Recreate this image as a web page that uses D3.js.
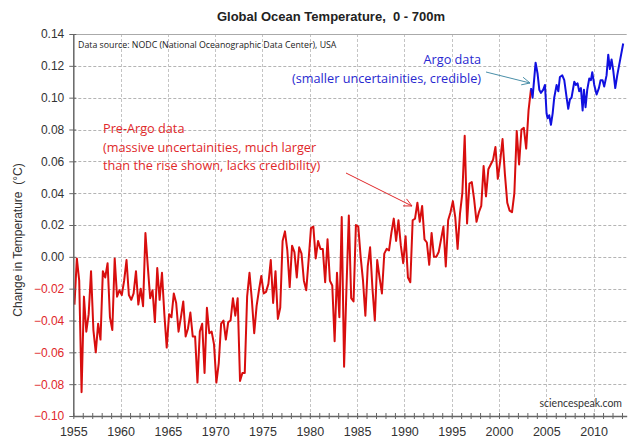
<!DOCTYPE html>
<html>
<head>
<meta charset="utf-8">
<script src="https://cdn.jsdelivr.net/npm/d3@7"></script>
<style>
  body { margin: 0; background: #fff; }
  svg { display: block; }
  .tick text { font-family: "Liberation Sans", Arial, sans-serif; }
</style>
</head>
<body>
<svg id="chart" width="628" height="439"></svg>
<script>
// quarterly NODC values, 0-700m (pre-Argo part, red)
var preArgoStart = 1955.125;
var quarterStep = 0.25;
var preArgo = [
  -0.030, -0.001, -0.015, -0.085,
  -0.025, -0.047, -0.036, -0.009,
  -0.046, -0.060, -0.042, -0.052,
  -0.009, -0.013, -0.004, -0.038,
  -0.046, -0.001, -0.025, -0.021,
  -0.024, -0.015, -0.002, -0.024,
  -0.027, -0.023, -0.009, -0.030,
  -0.020, -0.031, 0.015, -0.006,
  -0.026, -0.021, -0.041, -0.007,
  -0.027, -0.010, -0.036, -0.057,
  -0.036, -0.038, -0.023, -0.029,
  -0.047, -0.038, -0.028, -0.050,
  -0.045, -0.035, -0.050, -0.050,
  -0.079, -0.047, -0.042, -0.073,
  -0.032, -0.048, -0.047, -0.055,
  -0.079, -0.067, -0.042, -0.040,
  -0.052, -0.041, -0.040, -0.026,
  -0.037, -0.026, -0.078, -0.073,
  -0.073, -0.025, -0.010, -0.027,
  -0.048, -0.031, -0.021, -0.012,
  -0.023, -0.022, -0.017, -0.002,
  -0.029, -0.009, -0.039, -0.032,
  0.010, 0.016, 0.004, -0.019,
  0.007, 0.003, -0.013, 0.006,
  0.002, -0.015, -0.021, -0.002,
  0.018, 0.019, -0.001, 0.010,
  0.005, 0.005, -0.016, 0.011,
  -0.015, -0.018, -0.053, -0.010,
  -0.038, 0.025, -0.069, -0.020,
  0.026, -0.026, -0.028, 0.020,
  0.019, 0.000, -0.015, -0.037,
  -0.006, 0.006, -0.020, -0.040,
  -0.002, -0.013, -0.023, 0.002,
  0.005, 0.004, 0.015, 0.024,
  0.010, 0.023, 0.007, -0.004,
  0.013, -0.013, -0.016, 0.023,
  0.024, 0.034, 0.022, 0.032,
  0.011, 0.009, -0.005, 0.015,
  0.000, 0.000, 0.003, 0.011,
  0.019, -0.006, 0.023, 0.028,
  0.035, 0.025, 0.005, 0.027,
  0.040, 0.076, 0.021, 0.046,
  0.047, 0.036, 0.022, 0.028,
  0.032, 0.057, 0.038, 0.055,
  0.058, 0.061, 0.069, 0.049,
  0.060, 0.074, 0.052, 0.034,
  0.029, 0.028, 0.040, 0.079,
  0.058, 0.080, 0.081, 0.068,
  0.092, 0.105
];

// Argo part (blue)
var argoYears = [
  2003.38, 2003.55, 2003.87, 2004.08, 2004.26, 2004.43, 2004.68, 2004.86, 2005.03, 2005.14,
  2005.31, 2005.49, 2005.67, 2005.84, 2006.09, 2006.27, 2006.44, 2006.69, 2006.90, 2007.15,
  2007.32, 2007.50, 2007.67, 2007.96, 2008.13, 2008.31, 2008.48, 2008.66, 2008.84, 2008.98,
  2009.15, 2009.33, 2009.54, 2009.72, 2009.86, 2010.07, 2010.32, 2010.56, 2010.74, 2010.95,
  2011.12, 2011.37, 2011.55, 2011.72, 2011.90, 2012.08, 2012.29, 2012.50, 2012.78, 2013.13
];
var argoValues = [
  0.106, 0.100, 0.122, 0.115, 0.105, 0.103, 0.105, 0.108, 0.090, 0.087,
  0.089, 0.083, 0.090, 0.100, 0.108, 0.104, 0.113, 0.114, 0.111, 0.100,
  0.093, 0.099, 0.100, 0.110, 0.108, 0.109, 0.104, 0.106, 0.092, 0.105,
  0.094, 0.105, 0.112, 0.111, 0.116, 0.108, 0.102, 0.106, 0.111, 0.111,
  0.107, 0.114, 0.127, 0.118, 0.124, 0.117, 0.106, 0.114, 0.123, 0.134
];

var yTicks = [-0.10, -0.08, -0.06, -0.04, -0.02, 0.00, 0.02, 0.04, 0.06, 0.08, 0.10, 0.12, 0.14];
var xLabels = [1955, 1960, 1965, 1970, 1975, 1980, 1985, 1990, 1995, 2000, 2005, 2010];
var xYears = d3.range(1955, 2014);

var svg = d3.select('#chart');
var plotLeft = 73.3, plotRight = 626.7, plotTop = 34, plotBottom = 416;

var x = d3.scaleLinear().domain([1955, 2013.5]).range([plotLeft, plotRight]);
var y = d3.scaleLinear().domain([-0.10, 0.14]).range([plotBottom, plotTop]);

// grid
var grid = svg.append('g');
grid.selectAll('line.h')
  .data(yTicks.filter(function(d) { return d > -0.09 && d < 0.13; }))
  .enter().append('line')
  .attr('x1', plotLeft).attr('x2', plotRight)
  .attr('y1', function(d) { return Math.round(y(d)) + 0.5; })
  .attr('y2', function(d) { return Math.round(y(d)) + 0.5; })
  .attr('stroke', '#b4b4b4').attr('stroke-dasharray', '3,2');
grid.selectAll('line.v')
  .data(xLabels.slice(1))
  .enter().append('line')
  .attr('x1', function(d) { return Math.round(x(d)) + 0.5; })
  .attr('x2', function(d) { return Math.round(x(d)) + 0.5; })
  .attr('y1', plotTop).attr('y2', plotBottom)
  .attr('stroke', '#c4c4c4').attr('stroke-dasharray', '3,2');
grid.append('line')
  .attr('x1', plotLeft).attr('x2', plotRight)
  .attr('y1', plotTop + 0.5).attr('y2', plotTop + 0.5)
  .attr('stroke', '#aaa');

// lines
var line = d3.line()
  .x(function(d) { return x(d.year); })
  .y(function(d) { return y(d.value); });

var redData = preArgo.map(function(v, i) { return { year: preArgoStart + i * quarterStep, value: v }; });
var blueData = argoYears.map(function(yr, i) { return { year: yr, value: argoValues[i] }; });

svg.append('path').datum(redData)
  .attr('d', line).attr('fill', 'none')
  .attr('stroke', '#d80e0e').attr('stroke-width', 2).attr('stroke-linejoin', 'round');
svg.append('path').datum(blueData)
  .attr('d', line).attr('fill', 'none')
  .attr('stroke', '#1010e0').attr('stroke-width', 2).attr('stroke-linejoin', 'round');

// axes
var yAxis = svg.append('g')
  .attr('transform', 'translate(' + plotLeft + ',0)')
  .call(d3.axisLeft(y).tickValues(yTicks).tickSizeInner(4).tickSizeOuter(0).tickPadding(5)
    .tickFormat(d3.format('.2f')));
yAxis.select('.domain').attr('stroke', '#666').attr('stroke-width', 1.5);
yAxis.selectAll('.tick line').attr('x1', 3).attr('stroke', '#666');
yAxis.selectAll('.tick text')
  .attr('font-size', 12)
  .attr('fill', function(d) { return d < 0 ? '#e0282a' : '#333'; });

var xAxis = svg.append('g')
  .attr('transform', 'translate(0,' + plotBottom + ')')
  .call(d3.axisBottom(x).tickValues(xYears).tickSizeInner(3).tickSizeOuter(0).tickPadding(8)
    .tickFormat(function(d) { return d % 5 === 0 ? d : ''; }));
xAxis.select('.domain').attr('stroke', '#666').attr('stroke-width', 1.5);
xAxis.selectAll('.tick line').attr('y1', -3).attr('stroke', '#666');
xAxis.selectAll('.tick text').attr('font-size', 12.5).attr('fill', '#333');

// titles
svg.append('text')
  .attr('x', 331).attr('y', 21)
  .attr('text-anchor', 'middle')
  .attr('font-family', '"Liberation Sans", Arial, sans-serif')
  .attr('font-weight', 'bold').attr('font-size', 13).attr('fill', '#222')
  .text('Global Ocean Temperature,\u00A0 0 - 700m');

svg.append('text')
  .attr('transform', 'translate(22,240) rotate(-90)')
  .attr('text-anchor', 'middle')
  .attr('font-family', '"Liberation Sans", Arial, sans-serif')
  .attr('font-size', 12).attr('fill', '#333')
  .text('Change in Temperature\u00A0 (\u00B0C)');

svg.append('text')
  .attr('x', 78).attr('y', 48)
  .attr('font-family', '"Open Sans", sans-serif').attr('font-size', 8.8).attr('fill', '#222')
  .text('Data source: NODC (National Oceanographic Data Center), USA');

svg.append('text')
  .attr('x', 622).attr('y', 407).attr('text-anchor', 'end')
  .attr('font-family', 'Lato, sans-serif').attr('font-size', 10.5).attr('fill', '#333')
  .text('sciencespeak.com');

// annotations
var preLines = ['Pre-Argo data', '(massive uncertainities, much larger', 'than the rise shown, lacks credibility)'];
svg.append('g').selectAll('text').data(preLines).enter().append('text')
  .attr('x', 103).attr('y', function(d, i) { return 133 + i * 18.7; })
  .attr('font-family', '"Open Sans", sans-serif').attr('font-size', 12.7).attr('fill', '#e0282a')
  .text(function(d) { return d; });

var argoLines = ['Argo data', '(smaller uncertainities, credible)'];
svg.append('g').selectAll('text').data(argoLines).enter().append('text')
  .attr('x', 481).attr('y', function(d, i) { return 64 + i * 19; })
  .attr('text-anchor', 'end')
  .attr('font-family', '"Open Sans", sans-serif').attr('font-size', 12.7).attr('fill', '#2828d0')
  .text(function(d) { return d; });

function arrow(x1, y1, x2, y2, color) {
  var a = Math.atan2(y2 - y1, x2 - x1), len = 9, spread = 0.45;
  svg.append('line').attr('x1', x1).attr('y1', y1).attr('x2', x2).attr('y2', y2)
    .attr('stroke', color).attr('stroke-width', 1);
  svg.append('path')
    .attr('d', 'M' + (x2 - len * Math.cos(a - spread)) + ',' + (y2 - len * Math.sin(a - spread)) +
      'L' + x2 + ',' + y2 +
      'L' + (x2 - len * Math.cos(a + spread)) + ',' + (y2 - len * Math.sin(a + spread)))
    .attr('fill', 'none').attr('stroke', color).attr('stroke-width', 1);
}
arrow(486, 72, 530, 83, '#4a8fa8');
arrow(346, 173, 412, 206, '#e0282a');
</script>
</body>
</html>
